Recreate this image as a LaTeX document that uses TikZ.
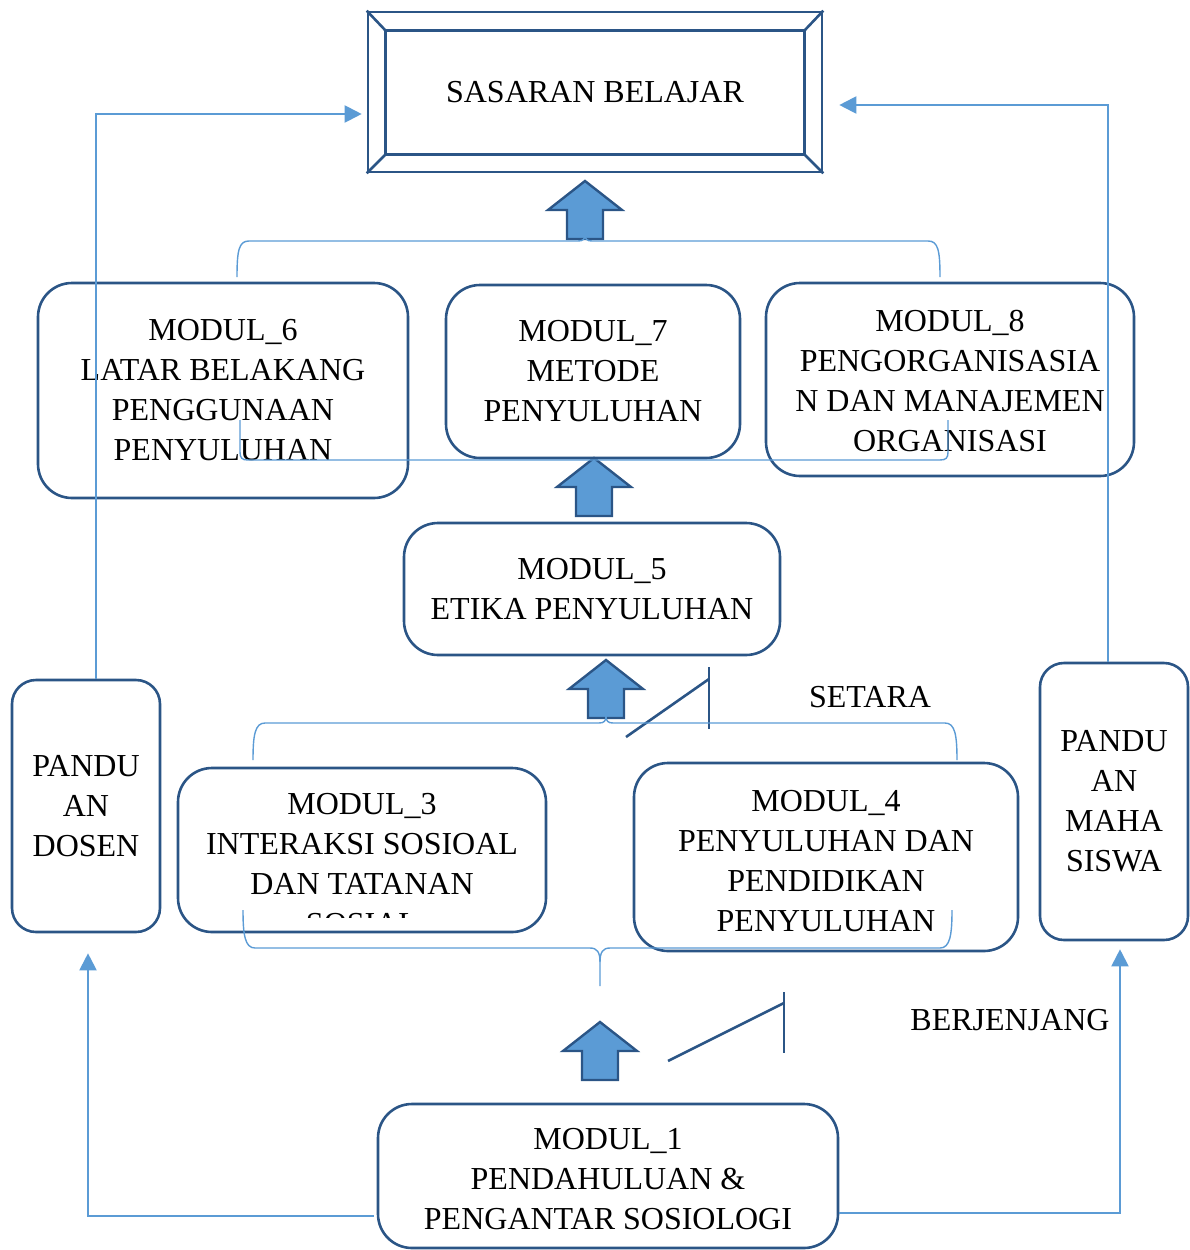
\documentclass[tikz,border=0pt]{standalone}
\usepackage{fontspec}
\setmainfont{Liberation Serif}
\usetikzlibrary{arrows.meta,calc}
\definecolor{dk}{HTML}{2B5586}
\definecolor{lb}{HTML}{5B9BD5}
\begin{document}
\begin{tikzpicture}[x=1pt,y=-1pt,
  txt/.style={font=\fontsize{32}{40}\selectfont, align=center, inner sep=0pt},
  mbox/.style={txt, draw=dk, line width=2.6pt, rounded corners=34pt, fill=white},
  pbox/.style={mbox, rounded corners=24pt},
  conn/.style={draw=lb, line width=2pt, -{Triangle[length=17pt,width=17pt]}},
  brace/.style={draw=lb, line width=1.4pt},
  tickline/.style={draw=dk, line width=2.6pt},
  blockup/.pic={\draw[draw=dk, line width=2.4pt, fill=lb, line join=miter]
    (-18,0) -- (-18,-29) -- (-37,-29) -- (0,-58) -- (37,-29) -- (18,-29) -- (18,0) -- cycle;}
]
\useasboundingbox (0,0) rectangle (1189,1250);

% goal box
\node[txt, draw=dk, line width=2.6pt, minimum width=454, minimum height=160] (goal) at (595,92) {SASARAN BELAJAR};
\draw[dk, line width=2.6pt] ($(goal.north west)+(19,20)$) rectangle ($(goal.south east)+(-19,-19)$);
\draw[dk, line width=2.6pt] (goal.north west) -- ++(19,20);
\draw[dk, line width=2.6pt] (goal.north east) -- ++(-19,20);
\draw[dk, line width=2.6pt] (goal.south west) -- ++(19,-19);
\draw[dk, line width=2.6pt] (goal.south east) -- ++(-19,-19);

% modules
\node[mbox, minimum width=370, minimum height=215] (m6) at (223,390.5) {MODUL\_6\\LATAR BELAKANG\\PENGGUNAAN\\PENYULUHAN};
\node[mbox, minimum width=294, minimum height=173] (m7) at (593,371.5) {MODUL\_7\\METODE\\PENYULUHAN};
\node[mbox, minimum width=368, minimum height=193] (m8) at (950,379.5) {};
\node[txt] (m8t) at (950,381.5) {MODUL\_8\\PENGORGANISASIA\\N DAN MANAJEMEN\\ORGANISASI};
\node[mbox, minimum width=376, minimum height=132] (m5) at (592,589) {MODUL\_5\\ETIKA PENYULUHAN};
\node[pbox, minimum width=148, minimum height=252] (dosen) at (86,806) {PANDU\\AN\\DOSEN};
\node[mbox, minimum width=368, minimum height=164] (m3) at (362,850) {};
\begin{scope}
  \clip (178,768) rectangle (546,917);
  \node[txt] (m3t) at (362,864.5) {MODUL\_3\\INTERAKSI SOSIOAL\\DAN TATANAN\\SOSIAL};
\end{scope}
\node[mbox, minimum width=384, minimum height=188] (m4) at (826,857) {};
\node[txt] (m4t) at (826,861) {MODUL\_4\\PENYULUHAN DAN\\PENDIDIKAN\\PENYULUHAN};
\node[pbox, minimum width=148, minimum height=277] (mhs) at (1114,801.5) {PANDU\\AN\\MAHA\\SISWA};
\node[mbox, minimum width=460, minimum height=144] (m1) at (608,1176) {};
\node[txt] (m1t) at (608,1179) {MODUL\_1\\PENDAHULUAN \&\\PENGANTAR SOSIOLOGI};

% labels
\node[txt] (setara) at (870,697) {SETARA};
\node[txt] (berj) at (1010,1020) {BERJENJANG};

% block arrows
\pic at (585,239) {blockup};
\pic at (594,516) {blockup};
\pic at (606,718) {blockup};
\pic at (600,1080) {blockup};

% tick marks
\draw[tickline] (626,737) -- (709,679);
\draw[tickline] (709,667) -- (709,729);
\draw[tickline] (668,1061) -- (784,1003);
\draw[tickline] (784,992) -- (784,1053);

% braces
\draw[brace] (237,277) .. controls (237,250) and (239,241) .. (249,241) -- (578,241)
  .. controls (583,241) and (585,239) .. (585,235) .. controls (585,239) and (587,241) .. (592,241)
  -- (928,241) .. controls (938,241) and (940,250) .. (940,277);
\draw[brace] (240,420) -- (240,452) .. controls (240,458) and (242,460) .. (248,460)
  -- (940,460) .. controls (946,460) and (948,458) .. (948,452) -- (948,420);
\draw[brace] (253,760) .. controls (253,735) and (255,723) .. (265,723) -- (599,723)
  .. controls (604,723) and (606,721) .. (606,716) .. controls (606,721) and (608,723) .. (613,723)
  -- (945,723) .. controls (955,723) and (957,735) .. (957,760);
\draw[brace] (243,910) .. controls (243,935) and (245,948) .. (255,948) -- (590,948)
  .. controls (597,948) and (600,952) .. (600,962) -- (600,986);
\draw[brace] (600,962) .. controls (600,952) and (603,948) .. (610,948)
  -- (940,948) .. controls (950,948) and (952,935) .. (952,910);

% connectors
\draw[conn] ($(dosen.north)+(10,0)$) |- ($(goal.west)+(-5,22)$);
\draw[conn] ($(mhs.north)+(-6,0)$) |- ($(goal.east)+(16,13)$);
\draw[conn] ($(m1.west)+(-3,40)$) -| ($(dosen.south)+(2,20)$);
\draw[conn] ($(m1.east)+(0,37)$) -| ($(mhs.south)+(6,8)$);
\end{tikzpicture}
\end{document}
